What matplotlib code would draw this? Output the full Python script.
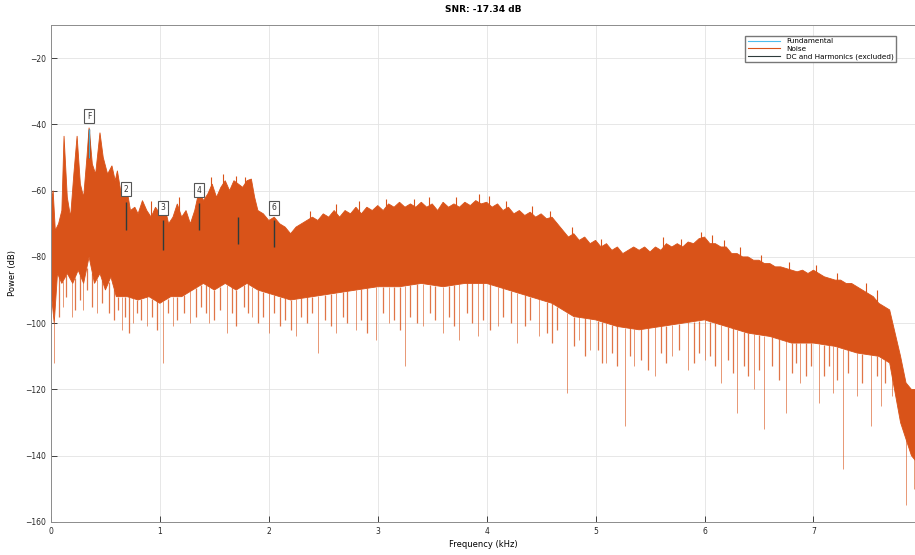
import numpy as np
import matplotlib
matplotlib.use("Agg")
import matplotlib.pyplot as plt

# ----------------------------------------------------------------------
# values (kHz, dB)
# ----------------------------------------------------------------------

snr_db = -17.34

# top edge of the noise mass
top_khz = [0.00, 0.02, 0.04, 0.07, 0.10, 0.12, 0.15, 0.18, 0.21, 0.24,
           0.27, 0.30, 0.33, 0.35, 0.38, 0.41, 0.45, 0.48, 0.52, 0.56,
           0.59, 0.61, 0.64, 0.67, 0.70, 0.73, 0.77, 0.80, 0.84, 0.88,
           0.92, 0.96, 1.00, 1.04, 1.08, 1.12, 1.16, 1.20, 1.24, 1.28,
           1.32, 1.36, 1.40, 1.44, 1.48, 1.52, 1.56, 1.60, 1.64, 1.68,
           1.72, 1.76, 1.80, 1.84, 1.87, 1.90, 1.95, 2.00, 2.05, 2.10,
           2.15, 2.20, 2.25, 2.30, 2.35, 2.40, 2.45, 2.50, 2.55, 2.60,
           2.65, 2.70, 2.75, 2.80, 2.85, 2.90, 2.95, 3.00, 3.05, 3.10,
           3.15, 3.20, 3.25, 3.30, 3.35, 3.40, 3.45, 3.50, 3.55, 3.60,
           3.65, 3.70, 3.75, 3.80, 3.85, 3.90, 3.95, 4.00, 4.05, 4.10,
           4.15, 4.20, 4.25, 4.30, 4.35, 4.40, 4.45, 4.50, 4.55, 4.60,
           4.65, 4.70, 4.75, 4.80, 4.85, 4.90, 4.95, 5.00, 5.05, 5.10,
           5.15, 5.20, 5.25, 5.30, 5.35, 5.40, 5.45, 5.50, 5.55, 5.60,
           5.65, 5.70, 5.75, 5.80, 5.85, 5.90, 5.95, 6.00, 6.05, 6.10,
           6.15, 6.20, 6.25, 6.30, 6.35, 6.40, 6.45, 6.50, 6.55, 6.60,
           6.65, 6.70, 6.75, 6.80, 6.85, 6.90, 6.95, 7.00, 7.05, 7.10,
           7.15, 7.20, 7.25, 7.30, 7.35, 7.40, 7.45, 7.50, 7.55, 7.60,
           7.65, 7.70, 7.75, 7.80, 7.85, 7.90, 7.95]
top_db = [-64, -60, -72, -70, -66, -43.5, -62, -68, -55, -43.5,
          -58, -62, -50, -41, -52, -55, -42.5, -50, -55, -52.5,
          -57, -54, -60, -59, -60, -66, -65, -67, -63, -66,
          -68, -65, -67, -64, -70, -68, -64, -68, -66, -70,
          -66, -60, -63, -61, -58, -62, -59, -57, -60, -57,
          -58, -59, -57, -56.5, -62, -66, -67, -69, -68, -70,
          -71, -73, -71, -70, -69, -68, -69, -67, -68, -66,
          -68, -66, -67, -65, -67, -65, -66, -64.5, -66, -64,
          -65, -63.5, -65, -64, -65, -63.5, -65, -64, -66, -63.5,
          -65, -64, -65, -63.5, -64.5, -63, -64, -63.5, -65, -64,
          -66, -65, -67, -66, -67.5, -66.5, -68, -67, -68.5, -68,
          -70, -72, -74, -73, -75, -74, -76, -75, -77, -76,
          -78, -77, -79, -78, -77, -78, -77, -78.5, -77, -78,
          -76, -77, -76, -77, -75.5, -76, -74.5, -74, -76, -76,
          -77, -77, -79, -79, -80, -80, -81, -81, -82, -82,
          -83, -83, -83.5, -84, -84.5, -84, -85, -84, -85, -86,
          -86.5, -87, -87, -88, -88, -89, -90, -91, -92, -94,
          -95, -96, -103, -110, -118, -120, -120]

# bottom edge of the solid part of the noise mass
floor_khz = [0.00, 0.03, 0.06, 0.10, 0.15, 0.20, 0.25, 0.30, 0.35, 0.40,
             0.45, 0.50, 0.55, 0.60, 0.70, 0.80, 0.90, 1.00, 1.10, 1.20,
             1.30, 1.40, 1.50, 1.60, 1.70, 1.80, 1.90, 2.00, 2.20, 2.40,
             2.60, 2.80, 3.00, 3.20, 3.40, 3.60, 3.80, 4.00, 4.20, 4.40,
             4.60, 4.80, 5.00, 5.20, 5.40, 5.60, 5.80, 6.00, 6.20, 6.40,
             6.60, 6.80, 7.00, 7.20, 7.40, 7.60, 7.70, 7.80, 7.90, 7.95]
floor_db = [-90, -100, -85, -88, -85, -88, -84, -88, -80, -88,
            -85, -90, -86, -92, -92, -93, -92, -94, -92, -92,
            -90, -88, -90, -88, -90, -88, -90, -91, -93, -92,
            -91, -90, -89, -89, -88, -89, -88, -88, -90, -92,
            -94, -98, -99, -101, -102, -101, -100, -99, -101, -103,
            -104, -106, -106, -107, -109, -110, -112, -130, -140, -142]

# long thin downward spikes
dip_khz = [0.03, 0.11, 0.19, 0.29, 0.42, 0.65, 0.75, 0.88, 1.03, 1.12,
           1.28, 1.45, 1.62, 1.85, 2.00, 2.25, 2.45, 2.62, 2.80, 2.98,
           3.10, 3.25, 3.42, 3.60, 3.75, 3.92, 4.10, 4.28, 4.48, 4.74,
           4.85, 4.95, 5.10, 5.27, 5.35, 5.55, 5.70, 5.85, 6.00, 6.15,
           6.30, 6.45, 6.55, 6.75, 6.88, 7.05, 7.18, 7.27, 7.40, 7.53,
           7.62, 7.72, 7.85, 7.92]
dip_db = [-112, -95, -98, -96, -97, -102, -100, -101, -112, -101,
          -100, -100, -103, -98, -103, -104, -109, -103, -102, -105,
          -100, -113, -101, -103, -105, -104, -101, -106, -104, -121,
          -105, -108, -112, -131, -113, -116, -110, -114, -111, -118,
          -127, -120, -132, -127, -118, -124, -121, -144, -122, -131,
          -125, -122, -155, -150]

# short downward spikes that make the ragged lower edge
fine_khz = [0.07, 0.14, 0.22, 0.27, 0.33, 0.38, 0.47, 0.53, 0.58, 0.62,
            0.68, 0.72, 0.79, 0.83, 0.93, 0.97, 1.07, 1.16, 1.22, 1.33,
            1.38, 1.42, 1.50, 1.55, 1.66, 1.70, 1.77, 1.81, 1.90, 1.95,
            2.05, 2.10, 2.15, 2.20, 2.30, 2.35, 2.40, 2.52, 2.57, 2.68,
            2.72, 2.85, 2.90, 3.05, 3.15, 3.20, 3.30, 3.36, 3.48, 3.53,
            3.65, 3.70, 3.82, 3.87, 3.97, 4.03, 4.15, 4.22, 4.35, 4.40,
            4.55, 4.60, 4.65, 4.80, 4.90, 5.02, 5.06, 5.15, 5.20, 5.32,
            5.42, 5.48, 5.60, 5.65, 5.77, 5.90, 5.95, 6.05, 6.10, 6.22,
            6.26, 6.36, 6.40, 6.50, 6.62, 6.68, 6.80, 6.84, 6.93, 6.98,
            7.10, 7.14, 7.22, 7.32, 7.45, 7.58, 7.66]
fine_db = [-98, -92, -96, -93, -90, -95, -94, -97, -99, -96,
           -98, -103, -97, -99, -98, -102, -97, -99, -97, -98,
           -95, -97, -99, -96, -97, -101, -95, -97, -100, -98,
           -97, -101, -99, -102, -98, -100, -97, -99, -101, -98,
           -100, -99, -103, -97, -99, -102, -98, -100, -97, -99,
           -98, -101, -97, -100, -99, -102, -98, -100, -101, -99,
           -103, -106, -102, -107, -110, -108, -112, -109, -113, -110,
           -111, -114, -109, -112, -108, -112, -109, -110, -113, -111,
           -115, -113, -116, -114, -113, -117, -115, -112, -116, -113,
           -116, -113, -117, -115, -118, -116, -118]

# thin upward spikes poking above the mass
peak_khz = [0.92, 1.18, 1.47, 1.58, 1.70, 1.78, 2.38, 2.62, 2.83, 3.08,
            3.33, 3.47, 3.72, 3.93, 4.02, 4.18, 4.42, 4.58, 4.78, 5.05,
            5.62, 5.78, 5.97, 6.07, 6.18, 6.33, 6.52, 6.78, 7.02, 7.22,
            7.48, 7.58]
peak_db = [-63, -62, -56, -55, -55.5, -56, -66, -64, -63, -62.5,
           -62.5, -62, -62, -61, -61.5, -63, -64.5, -66, -71, -74.5,
           -74, -74.5, -72.5, -73.5, -75, -77, -79.5, -81.5, -82.5, -85,
           -88, -90]

# fundamental + harmonics (excluded from noise)
harm_khz = [0.35, 0.69, 1.03, 1.36, 1.72, 2.05]
harm_db = [-41.4, -63.4, -69, -63.7, -68, -69]
harm_low_db = [-50, -72, -78, -72, -76, -77]
harm_labels = ['F', '2', '3', '4', '', '6']

# ----------------------------------------------------------------------
# plot
# ----------------------------------------------------------------------

noise_color = '#D95319'
fund_color = '#4DBEEE'
harm_color = '#2E3B3B'
plt.rcParams['font.family'] = ['DejaVu Sans']

fig = plt.figure(figsize=(9.15, 5.55), dpi=100)
ax = fig.add_axes([0.0557, 0.0595, 0.944, 0.8955])

# solid noise mass: top edge left->right, floor right->left
poly_x = np.concatenate([top_khz, floor_khz[::-1]])
poly_y = np.concatenate([top_db, floor_db[::-1]])
ax.fill(poly_x, poly_y, color=noise_color, linewidth=0.6, zorder=2)

floor_at = lambda f: np.interp(f, floor_khz, floor_db)
top_at = lambda f: np.interp(f, top_khz, top_db)
ax.vlines(fine_khz, fine_db, floor_at(fine_khz), color=noise_color,
          linewidth=0.9, alpha=0.8, zorder=2)
ax.vlines(dip_khz, dip_db, floor_at(dip_khz), color=noise_color,
          linewidth=0.7, alpha=0.6, zorder=2)
ax.vlines(peak_khz, top_at(peak_khz) - 3, peak_db, color=noise_color,
          linewidth=0.8, zorder=2)

# legend proxies
ax.plot([], [], color=fund_color, linewidth=0.8, label='Fundamental')
ax.plot([], [], color=noise_color, linewidth=0.8, label='Noise')
ax.plot([], [], color=harm_color, linewidth=0.8,
        label='DC and Harmonics (excluded)')

ax.vlines(harm_khz, harm_low_db, harm_db, color=harm_color, linewidth=1.0,
          zorder=3)
ax.vlines(harm_khz[:1], harm_low_db[:1], harm_db[:1], color=fund_color,
          linewidth=0.6, zorder=3)
for f, d, lab in zip(harm_khz, harm_db, harm_labels):
    if not lab:
        continue
    ax.text(f, d + 2.5, lab, fontsize=5.5, ha='center', va='bottom',
            color='#333333', zorder=4,
            bbox=dict(boxstyle='square,pad=0.35', fc='white', ec='#555555',
                      lw=0.8))

ax.set_xlim(0, 7.93)
ax.set_ylim(-160, -10)
ax.set_xticks(range(0, 8))
ax.set_yticks(range(-160, -10, 20))
ax.tick_params(direction='in', labelsize=5.5, colors='#262626', length=4,
               width=0.6, top=False, right=False)
ax.grid(True, color='#E3E3E3', linewidth=0.6)
ax.set_axisbelow(True)
for s in ax.spines.values():
    s.set_color('#8C8C8C')
    s.set_linewidth(0.7)
ax.spines['right'].set_visible(False)

ax.set_title(f'SNR: {snr_db:.2f} dB', fontsize=6.5, fontweight='bold', pad=9)
ax.set_xlabel('Frequency (kHz)', fontsize=6, labelpad=3)
ax.set_ylabel('Power (dB)', fontsize=6, labelpad=6)

ax.legend(loc='upper right', bbox_to_anchor=(0.978, 0.978), borderaxespad=0,
          fontsize=5.2, handlelength=4.5, frameon=True, fancybox=False,
          edgecolor='#777777', framealpha=1, borderpad=0.3, labelspacing=0.2)

fig.savefig('out.png', dpi=100)
